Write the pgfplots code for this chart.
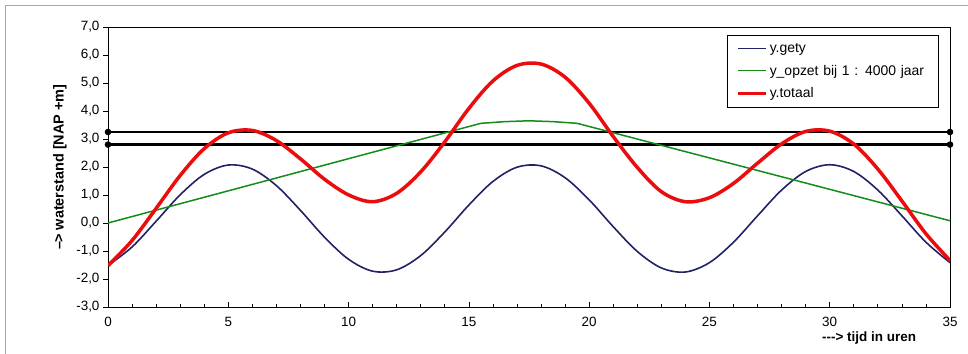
\documentclass[border=0pt]{standalone}
\usepackage{pgfplots}
\pgfplotsset{compat=1.18}
\usepackage{pgfplotstable}
\usepackage{fontspec}
\setmainfont{Liberation Sans}
\definecolor{gety}{rgb}{0.13,0.13,0.40}
\definecolor{opzet}{rgb}{0.08,0.55,0.10}
\definecolor{totaal}{rgb}{0.92,0.05,0.05}

\pgfplotstableread{
t gety
0 -1.519
1 -0.856
2 0.063
3 1.006
4 1.736
5 2.070
6 1.925
7 1.335
8 0.451
9 -0.507
10 -1.296
11 -1.721
12 -1.672
13 -1.163
14 -0.321
15 0.641
16 1.483
17 1.992
18 2.041
19 1.617
20 0.827
21 -0.131
22 -1.015
23 -1.604
24 -1.750
25 -1.416
26 -0.686
27 0.257
28 1.176
29 1.839
30 2.080
31 1.839
32 1.176
33 0.258
34 -0.685
35 -1.416
}\getytable

\pgfplotstableread{
t opzet
0 0.00
15.5 3.56
16.5 3.62
17.5 3.65
18.5 3.62
19.5 3.56
35 0.08
}\opzettable

\pgfplotstableread{
t totaal
0 -1.519
1 -0.626
2 0.523
3 1.696
4 2.656
5 3.220
6 3.305
7 2.945
8 2.291
9 1.563
10 1.004
11 0.760
12 1.060
13 1.827
14 2.899
15 4.091
16 5.073
17 5.627
18 5.676
19 5.207
20 4.277
21 3.089
22 1.985
23 1.120
24 0.760
25 0.904
26 1.414
27 2.137
28 2.826
29 3.269
30 3.280
31 2.819
32 1.926
33 0.788
34 -0.385
35 -1.336
}\totaaltable

\begin{document}
\begin{tikzpicture}
\path[use as bounding box] (0,0) rectangle (968bp,354bp);
\draw[gray!70, line width=0.8bp] (5bp,0) -- (5bp,349bp) -- (968bp,349bp);
\begin{axis}[
  at={(108bp,47bp)}, anchor=south west,
  scale only axis, width=842bp, height=280bp,
  xmin=0, xmax=35, ymin=-3, ymax=7,
  xtick={0,5,...,35}, minor x tick num=4,
  ytick={-3,-2,...,7},
  xtick pos=bottom, ytick pos=left,
  tick align=outside,
  major tick length=5bp, minor tick length=3bp,
  major x tick style={yshift=5bp, black},
  minor x tick style={yshift=3bp, black},
  major y tick style={black},
  axis line style={black, line width=0.8bp},
  tick style={line width=0.7bp},
  /pgf/number format/assume math mode=true,
  tick label style={font=\fontsize{13.5}{15}\selectfont},
  yticklabel style={/pgf/number format/.cd, fixed, fixed zerofill, precision=1, use comma},
  xticklabel style={yshift=-2bp},
  ylabel={\bfseries --\kern-1pt> waterstand [NAP +m]},
  ylabel style={at={(axis description cs:-0.057,0.5)}, anchor=center, font=\fontsize{14.5}{16}\selectfont},
  xlabel={\bfseries {-}{-}{-}> tijd in uren},
  xlabel style={at={(axis description cs:0.848,-0.11)}, anchor=west, inner sep=0pt, font=\fontsize{13.5}{15}\selectfont},
  legend style={at={(0.987,0.971)}, anchor=north east, draw=black, line width=0.6bp,
    font=\fontsize{14}{16}\selectfont, row sep=7bp, inner xsep=9bp, inner ysep=6bp,
    text width=158bp},
  legend cell align=left,
  legend image code/.code={\draw[#1] (0bp,0bp) -- (28bp,0bp);},
]
\addplot[black, line width=2.4bp, mark=*, mark size=2bp, forget plot] coordinates {(0,3.25) (35,3.25)};
\addplot[black, line width=2.4bp, mark=*, mark size=2bp, forget plot] coordinates {(0,2.8) (35,2.8)};
\addplot[gety, line width=1.6bp, smooth, tension=0.55] table[x=t, y=gety] {\getytable};
\addlegendentry{y.gety}
\addplot[opzet, line width=1.5bp] table[x=t, y=opzet] {\opzettable};
\addlegendentry{y\_opzet bij 1 : 4000 jaar}
\addplot[totaal, line width=3.5bp, smooth, tension=0.55] table[x=t, y=totaal] {\totaaltable};
\addlegendentry{y.totaal}
\end{axis}
\end{tikzpicture}
\end{document}
